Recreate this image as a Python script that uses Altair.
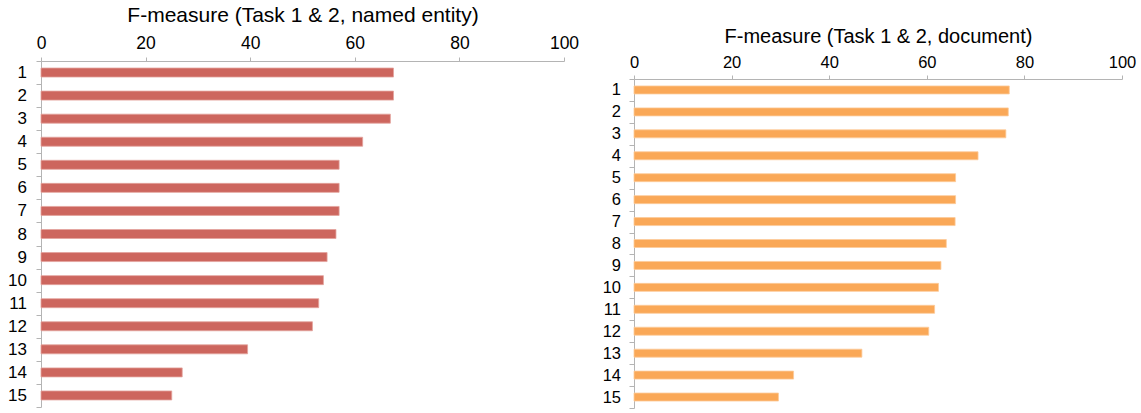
import altair as alt
import pandas as pd

# Team ranks (1 = best) and F-measure scores for the two evaluation settings
ranks = [str(i) for i in range(1, 16)]
named_entity = [67.4, 67.4, 66.8, 61.5, 57.0, 57.0, 57.0, 56.4, 54.7, 54.0, 53.1, 51.9, 39.5, 27.0, 25.0]
document = [76.9, 76.7, 76.2, 70.5, 65.9, 65.9, 65.8, 64.0, 62.9, 62.4, 61.6, 60.4, 46.7, 32.7, 29.6]
x_ticks = [0, 20, 40, 60, 80, 100]

FONT = "Liberation Sans"
AXIS_GREY = "#b4b4b4"

df_ne = pd.DataFrame({"rank": ranks, "score": named_entity})
df_doc = pd.DataFrame({"rank": ranks, "score": document})


def ranking_bars(df, title, color, edge, width, height, bar_size,
                 label_size, title_size, y_label_size, y_pad, x_pad, t_pad,
                 top_gap=0):
    # top_gap lowers the axis and the bar rows inside the view
    y_scale = alt.Scale(paddingInner=0, paddingOuter=0)
    if top_gap:
        y_scale = alt.Scale(paddingInner=0, paddingOuter=0, range=[top_gap, height])
    return alt.Chart(df).mark_bar(
        color=color, size=bar_size, stroke=edge, strokeWidth=0.8
    ).encode(
        x=alt.X(
            "score:Q",
            scale=alt.Scale(domain=[0, 100], nice=False),
            axis=alt.Axis(
                orient="top", values=x_ticks, title=title, grid=False,
                labelFlush=False, tickSize=4, labelPadding=x_pad,
                labelFontSize=label_size, titleFontSize=title_size,
                titlePadding=t_pad, offset=-top_gap,
            ),
        ),
        y=alt.Y(
            "rank:O", sort=ranks, scale=y_scale,
            axis=alt.Axis(
                title=None, tickBand="extent", tickSize=5,
                labelPadding=y_pad, labelFontSize=y_label_size,
            ),
        ),
    ).properties(width=width, height=height)


left = ranking_bars(df_ne, "F-measure (Task 1 & 2, named entity)",
                    "#cd665e", "#e3a39d", 523, 346, 9,
                    17.5, 21, 17, 9.5, 5, 9)
right = ranking_bars(df_doc, "F-measure (Task 1 & 2, document)",
                     "#faa857", "#fccb9a", 488, 347, 8,
                     16.5, 20, 16.5, 8.5, 5, 8, top_gap=18)

chart = alt.hconcat(left, right, spacing=23).properties(
    padding={"left": 7, "top": 4, "right": 5, "bottom": 2}
).configure_view(
    strokeWidth=0
).configure_axis(
    domainColor=AXIS_GREY, tickColor=AXIS_GREY, labelColor="#000000",
    titleColor="#000000", labelFont=FONT, titleFont=FONT,
    titleFontWeight="normal",
)

chart.save("out.html", embed_options={"renderer": "svg", "actions": False})
